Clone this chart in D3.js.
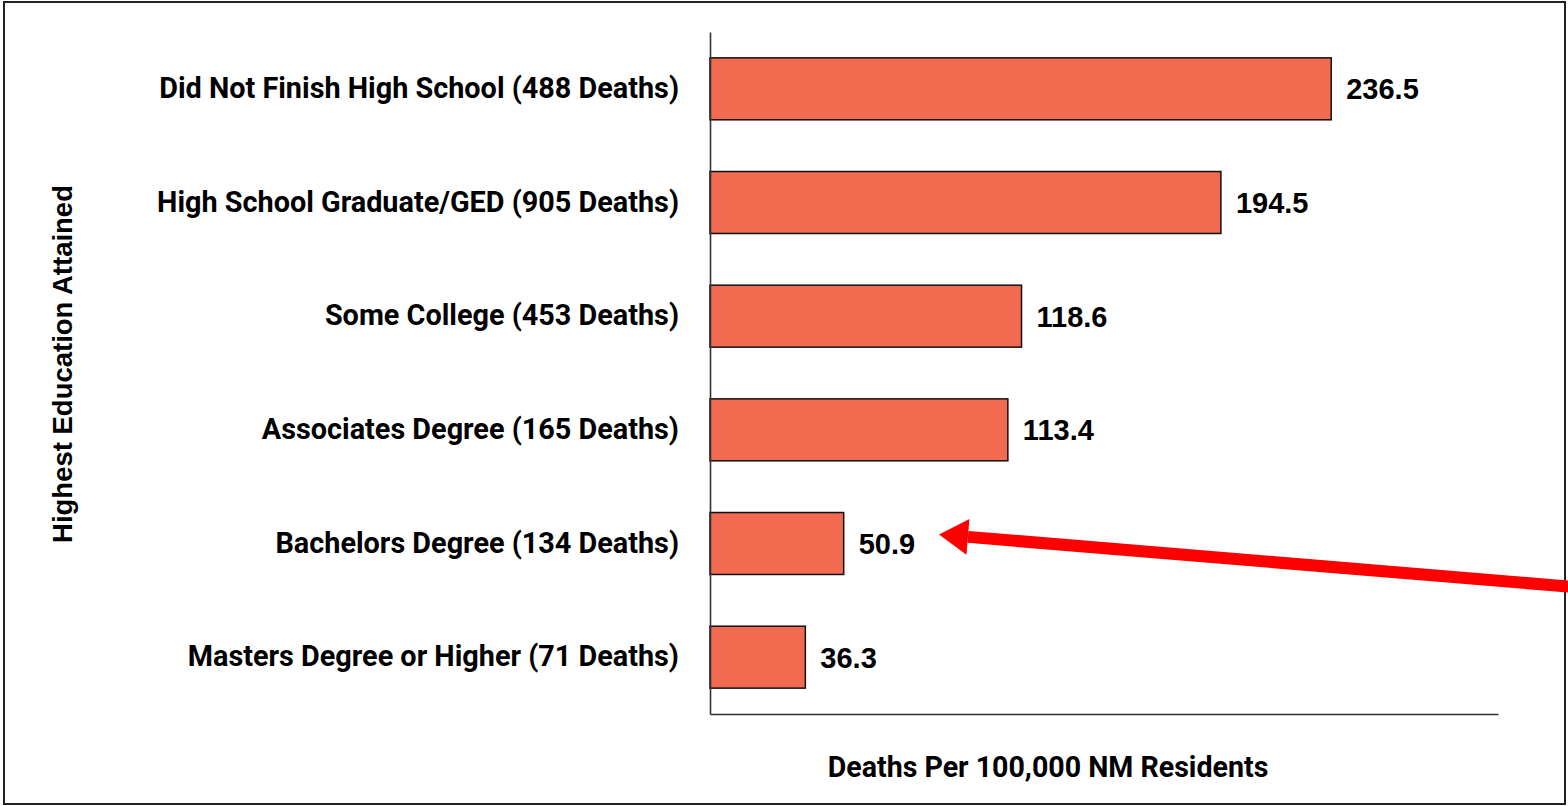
<!DOCTYPE html>
<html><head><meta charset="utf-8">
<script src="https://cdn.jsdelivr.net/npm/d3@7"></script>
<style>html,body{margin:0;padding:0;background:#fff;}svg{display:block;}</style>
</head><body>
<svg id="c" width="1568" height="806"></svg>
<script>
const categories = [
  "Did Not Finish High School (488 Deaths)",
  "High School Graduate/GED (905 Deaths)",
  "Some College (453 Deaths)",
  "Associates Degree (165 Deaths)",
  "Bachelors Degree (134 Deaths)",
  "Masters Degree or Higher (71 Deaths)"
];
const values = [236.5, 194.5, 118.6, 113.4, 50.9, 36.3];
const xTitle = "Deaths Per 100,000 NM Residents";
const yTitle = "Highest Education Attained";

const svg = d3.select("#c");
const W = 1568, H = 806;
const m = {left: 710, right: 70, top: 32, bottom: 92};

svg.append("rect").attr("x", 4).attr("y", 2).attr("width", 1561).attr("height", 802)
  .attr("fill", "#fff").attr("stroke", "#222").attr("stroke-width", 2);

const x = d3.scaleLinear().domain([0, 300]).range([m.left, W - m.right]);
const y = d3.scaleBand().domain(categories).range([m.top, H - m.bottom]).paddingInner(0.455).paddingOuter(0.2275);

const labelFont = "Roboto, 'Open Sans', sans-serif";
const numFont = "'Liberation Sans', Arial, sans-serif";

// fit a font size so a text's width equals a target
function fitSize(sel, target, start) {
  const n = sel.node();
  const w = n.getComputedTextLength();
  return start * target / w;
}

// bars
svg.append("g").selectAll("rect").data(categories).join("rect")
  .attr("x", x(0)).attr("y", d => y(d))
  .attr("width", (d, i) => x(values[i]) - x(0))
  .attr("height", y.bandwidth())
  .attr("fill", "#F26A50").attr("stroke", "#111").attr("stroke-width", 1.5);

// axes
const yAxis = svg.append("g").attr("transform", `translate(${x(0)},0)`)
  .call(d3.axisLeft(y).tickSize(0).tickPadding(31));
yAxis.select(".domain").attr("stroke", "#333").attr("stroke-width", 1.6);
const yTicks = yAxis.selectAll("text").attr("font-family", labelFont).attr("font-weight", 700)
  .attr("font-size", 26).attr("fill", "#000");
const lblSize = fitSize(yTicks.filter((d, i) => i === 0), 520, 26);
yTicks.attr("font-size", lblSize);

const xAxis = svg.append("g").attr("transform", `translate(0,${H - m.bottom})`)
  .call(d3.axisBottom(x).tickValues([]).tickSize(0));
xAxis.select(".domain").attr("stroke", "#333").attr("stroke-width", 1.6);

// value labels
svg.append("g").selectAll("text").data(categories).join("text")
  .attr("x", (d, i) => x(values[i]) + 15)
  .attr("y", d => y(d) + y.bandwidth() / 2)
  .attr("dy", "0.36em")
  .attr("font-family", numFont).attr("font-weight", 700).attr("font-size", 29)
  .attr("fill", "#000")
  .text((d, i) => values[i].toFixed(1));

// titles
const xt = svg.append("text").attr("x", 1048).attr("y", 777).attr("text-anchor", "middle")
  .attr("font-family", labelFont).attr("font-weight", 700).attr("font-size", 27)
  .attr("fill", "#000").text(xTitle);
xt.attr("font-size", fitSize(xt, 441, 27));
const yt = svg.append("text").attr("transform", `translate(72,364) rotate(-90)`).attr("text-anchor", "middle")
  .attr("font-family", numFont).attr("font-weight", 700).attr("font-size", 26)
  .attr("fill", "#000").text(yTitle);
yt.attr("font-size", fitSize(yt, 358, 26));

// annotation arrow pointing at Bachelors label
const tipVal = 87.2;
const tip = [x(tipVal), y(categories[4]) + y.bandwidth() / 2 - 9];
const tail = [W, tip[1] + 52];
const ang = Math.atan2(tail[1] - tip[1], tail[0] - tip[0]);
const headLen = 29, headHalf = 18;
const bx = tip[0] + headLen * Math.cos(ang), by = tip[1] + headLen * Math.sin(ang);
svg.append("line").attr("x1", bx).attr("y1", by).attr("x2", tail[0] + 5).attr("y2", tail[1] + 5 * Math.tan(ang))
  .attr("stroke", "#FF0000").attr("stroke-width", 12);
svg.append("path")
  .attr("d", `M${tip[0]},${tip[1]} L${bx - headHalf * Math.sin(ang)},${by + headHalf * Math.cos(ang)} L${bx + headHalf * Math.sin(ang)},${by - headHalf * Math.cos(ang)} Z`)
  .attr("fill", "#FF0000");
</script>
</body></html>
